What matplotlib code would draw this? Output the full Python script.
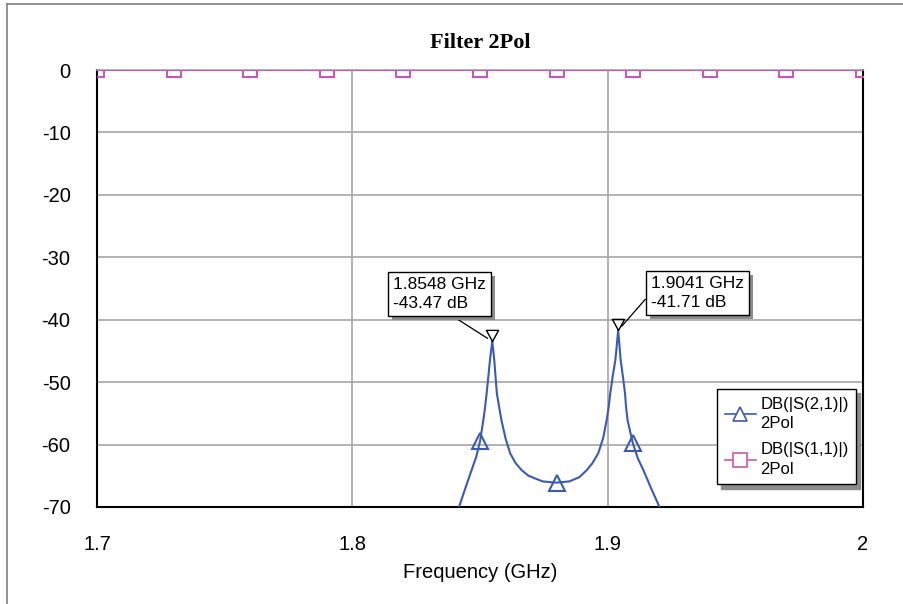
import matplotlib
matplotlib.use("Agg")
import matplotlib.pyplot as plt
import matplotlib.patheffects as pe
from matplotlib.lines import Line2D

plt.rcParams['font.family'] = ['Liberation Sans', 'DejaVu Sans']
plt.rcParams['axes.unicode_minus'] = False

# S21 trace (GHz, dB)
s21_f = [1.8400, 1.8418, 1.8440, 1.8467, 1.8485, 1.8500, 1.8513, 1.8520,
         1.8526, 1.8533, 1.8539, 1.8544, 1.8548, 1.8552, 1.8556, 1.8561,
         1.8566, 1.8575, 1.8584, 1.8600, 1.8618, 1.8640, 1.8663, 1.8690,
         1.8745, 1.8798, 1.8850, 1.8890, 1.8918, 1.8940, 1.8963, 1.8982,
         1.8996, 1.9004, 1.9010, 1.9020, 1.9030, 1.9036, 1.9041, 1.9046,
         1.9051, 1.9060, 1.9068, 1.9072, 1.9078, 1.9098, 1.9118, 1.9140,
         1.9170, 1.9203, 1.9230]
s21_db = [-72.5, -70.0, -67.3, -64.1, -62.0, -59.5, -56.1, -54.0,
          -51.8, -49.0, -46.5, -44.8, -43.47, -44.9, -46.5, -49.2,
          -51.8, -54.0, -56.1, -59.0, -61.4, -63.0, -64.1, -65.0,
          -65.9, -66.1, -65.9, -65.2, -64.1, -63.0, -61.4, -59.0,
          -56.1, -54.0, -51.8, -49.0, -46.5, -44.0, -41.71, -44.0,
          -46.5, -49.2, -51.8, -54.0, -56.1, -59.7, -62.2, -64.1,
          -67.0, -70.0, -72.5]
# triangle symbols on S21
s21_mk_f = [1.85, 1.88, 1.91]
s21_mk_db = [-59.5, -66.1, -59.7]

# S11 trace with square symbols
s11_f = [1.70, 1.73, 1.76, 1.79, 1.82, 1.85, 1.88, 1.91, 1.94, 1.97, 2.00]
s11_db = [0.0, 0.0, 0.0, 0.0, 0.0, 0.0, 0.0, 0.0, 0.0, 0.0, 0.0]

# marker readouts
peak_f = [1.8548, 1.9041]
peak_db = [-43.47, -41.71]
peak_txt = ["1.8548 GHz\n-43.47 dB", "1.9041 GHz\n-41.71 dB"]

yticks = [0, -10, -20, -30, -40, -50, -60, -70]
xticks = [1.7, 1.8, 1.9, 2.0]
xtick_labels = ["1.7", "1.8", "1.9", "2"]

blue = '#3A5BB0'
pink = '#C957B4'
grid_c = '#A6A6A6'

W, H = 904, 604
fig = plt.figure(figsize=(W / 100, H / 100), dpi=100)
fig.patch.set_facecolor('white')
ax = fig.add_axes([97 / W, 1 - 507 / H, (863 - 97) / W, (507 - 70) / H])

# outer frame of the graph window
fig.add_artist(Line2D([7 / W, 7 / W], [0, 1 - 4 / H], transform=fig.transFigure, color='#808080', lw=1.2))
fig.add_artist(Line2D([7 / W, 1], [1 - 4 / H, 1 - 4 / H], transform=fig.transFigure, color='#808080', lw=1.2))

# grid
for y in yticks[1:-1]:
    ax.axhline(y, color=grid_c, lw=1.2, zorder=1)
for x in [1.8, 1.9]:
    ax.axvline(x, color=grid_c, lw=1.2, zorder=1)

ax.plot(s21_f, s21_db, color=blue, lw=1.5, zorder=3)
ax.plot(s21_mk_f, s21_mk_db, ls='none', marker='^', ms=11, mfc='none', mec=blue, mew=1.5, zorder=4)
ax.plot(s11_f, s11_db, color=pink, lw=1.5, marker='s', ms=10, mfc='none', mec=pink, mew=1.5, zorder=4)

# legend proxies
h21 = Line2D([], [], color=blue, lw=1.2, marker='^', ms=10, mfc='white', mec=blue, mew=1.2)
h11 = Line2D([], [], color=pink, lw=1.2, marker='s', ms=10, mfc='white', mec=pink, mew=1.2)

# peak markers: down triangles with apex on the point
tri = [(0, 0), (-0.55, 1), (0.55, 1), (0, 0)]
ax.plot(peak_f, peak_db, ls='none', marker=tri, ms=16, mfc='none', mec='black', mew=1.0, zorder=5)

shadow = [pe.SimplePatchShadow(offset=(3, -3), shadow_rgbFace='#8C8C8C', alpha=1.0), pe.Normal()]
box_pos = [(393, 277), (651, 276)]
relpos = [(0.55, 0.0), (0.0, 0.5)]
for f, d, t, (px, py), rp in zip(peak_f, peak_db, peak_txt, box_pos, relpos):
    a = ax.annotate(t, xy=(f, d), xytext=(px / W, 1 - py / H), textcoords='figure fraction',
                    ha='left', va='top', fontsize=12.5, linespacing=1.3,
                    bbox=dict(boxstyle='square,pad=0.3', fc='white', ec='black', lw=1.0),
                    arrowprops=dict(arrowstyle='-', color='black', lw=0.9, relpos=rp,
                                    shrinkA=0, shrinkB=4),
                    zorder=6)
    a.get_bbox_patch().set_path_effects(shadow)

leg = ax.legend([h21, h11], ["DB(|S(2,1)|)\n2Pol", "DB(|S(1,1)|)\n2Pol"],
                loc='upper left', bbox_to_anchor=(717 / W, 1 - 389 / H),
                bbox_transform=fig.transFigure, borderaxespad=0,
                fontsize=12, handlelength=1.9, handletextpad=0.25,
                labelspacing=0.65, borderpad=0.45, fancybox=False,
                frameon=True, shadow={'color': '#8C8C8C', 'alpha': 1.0, 'ox': 3, 'oy': -3})
for txt in leg.get_texts():
    txt.set_linespacing(1.4)
leg.get_frame().set_edgecolor('black')
leg.get_frame().set_linewidth(1.0)
leg.get_frame().set_alpha(1.0)
leg.set_zorder(7)

ax.set_xlim(1.7, 2.0)
ax.set_ylim(-70, 0)
ax.set_xticks(xticks)
ax.set_xticklabels(xtick_labels)
ax.set_yticks(yticks)
ax.tick_params(axis='both', length=0, labelsize=14.5)
ax.tick_params(axis='y', pad=19)
ax.tick_params(axis='x', pad=20)
ax.set_xlabel("Frequency (GHz)", fontsize=14.5, labelpad=7)

for s in ['left', 'right', 'bottom']:
    ax.spines[s].set_color('black')
    ax.spines[s].set_linewidth(1.5)
ax.spines['top'].set_color(grid_c)
ax.spines['top'].set_linewidth(1.2)

fig.text(480 / W, 1 - 43 / H, "Filter 2Pol", ha='center', va='center',
         fontsize=16, fontweight='bold', family='Liberation Serif')

fig.savefig("out.png", dpi=100)
